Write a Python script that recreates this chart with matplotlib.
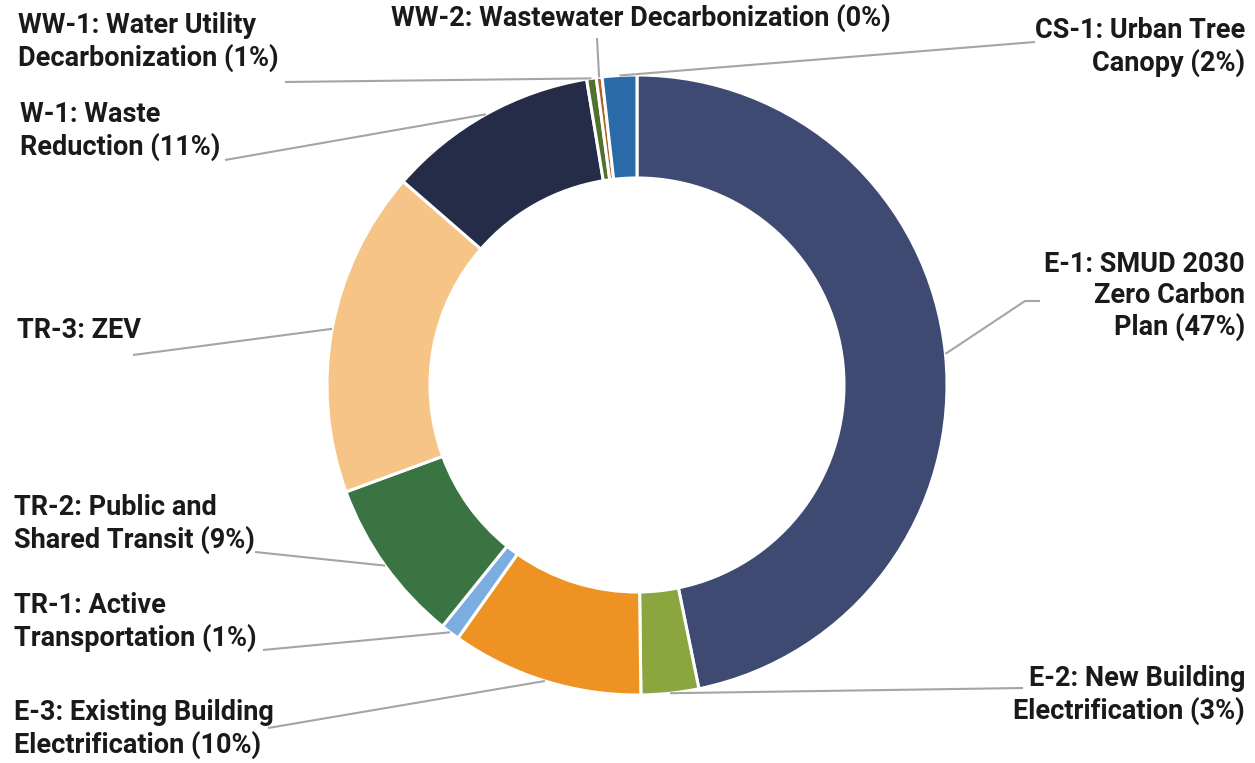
import numpy as np
import matplotlib.pyplot as plt

# measure shares (percent of reductions), clockwise from 12 o'clock
labels = ["E-1: SMUD 2030\nZero Carbon\nPlan (47%)",
          "E-2: New Building\nElectrification (3%)",
          "E-3: Existing Building\nElectrification (10%)",
          "TR-1: Active\nTransportation (1%)",
          "TR-2: Public and\nShared Transit (9%)",
          "TR-3: ZEV",
          "W-1: Waste\nReduction (11%)",
          "WW-1: Water Utility\nDecarbonization (1%)",
          "WW-2: Wastewater Decarbonization (0%)",
          "CS-1: Urban Tree\nCanopy (2%)"]
shares = [46.8, 3.0, 10.0, 1.0, 8.6, 17.0, 11.0, 0.5, 0.3, 1.8]
colors = ["#3E4A72", "#8BA53F", "#EE9323", "#7BADE0", "#3A7442",
          "#F6C486", "#252C48", "#52702E", "#B0631E", "#2A6AA8"]

# label layout in pixels (x, y, ha) and leader line points before the slice
W, H = 1255, 763
txt_pos = [(1245, 296, "right"), (1245, 695, "right"), (14, 729, "left"),
           (14, 622, "left"), (14, 524, "left"), (17, 330, "left"),
           (20, 131, "left"), (18, 42, "left"), (641, 18, "center"),
           (1245, 47, "right")]
leader_pts = [[(1040, 301), (1025, 301)], [(1023, 688)], [(268, 728), (280, 726)],
              [(263, 650)], [(255, 552)], [(133, 355)], [(225, 160)],
              [(285, 82)], [(597, 38)], [(1035, 42)]]

cx, cy, R, ring = 637, 385, 310, 103

plt.rcParams['font.family'] = ['Roboto', 'DejaVu Sans']

fig = plt.figure(figsize=(W / 100, H / 100), dpi=100)
ax = fig.add_axes([0, 0, 1, 1])

wedges, _ = ax.pie(shares, colors=colors, startangle=90, counterclock=False,
                   center=(cx, H - cy), radius=R,
                   wedgeprops=dict(width=ring, edgecolor='white', linewidth=2.2))
ax.set_xlim(0, W)
ax.set_ylim(0, H)
ax.set_aspect('equal')
ax.axis('off')

for i, w in enumerate(wedges):
    mid = np.deg2rad((w.theta1 + w.theta2) / 2)
    ex = cx + R * np.cos(mid)
    ey = (H - cy) + R * np.sin(mid)
    xs = [p[0] for p in leader_pts[i]] + [ex]
    ys = [H - p[1] for p in leader_pts[i]] + [ey]
    ax.plot(xs, ys, color="#A5A5A5", lw=1.5, solid_capstyle='butt')
    tx, ty, ha = txt_pos[i]
    ax.text(tx, H - ty, labels[i], ha=ha, va='center', multialignment=ha,
            fontsize=19.5, fontweight='bold', color="#1A1A1A", linespacing=1.2)

fig.savefig("out.png", dpi=100, facecolor='white')
